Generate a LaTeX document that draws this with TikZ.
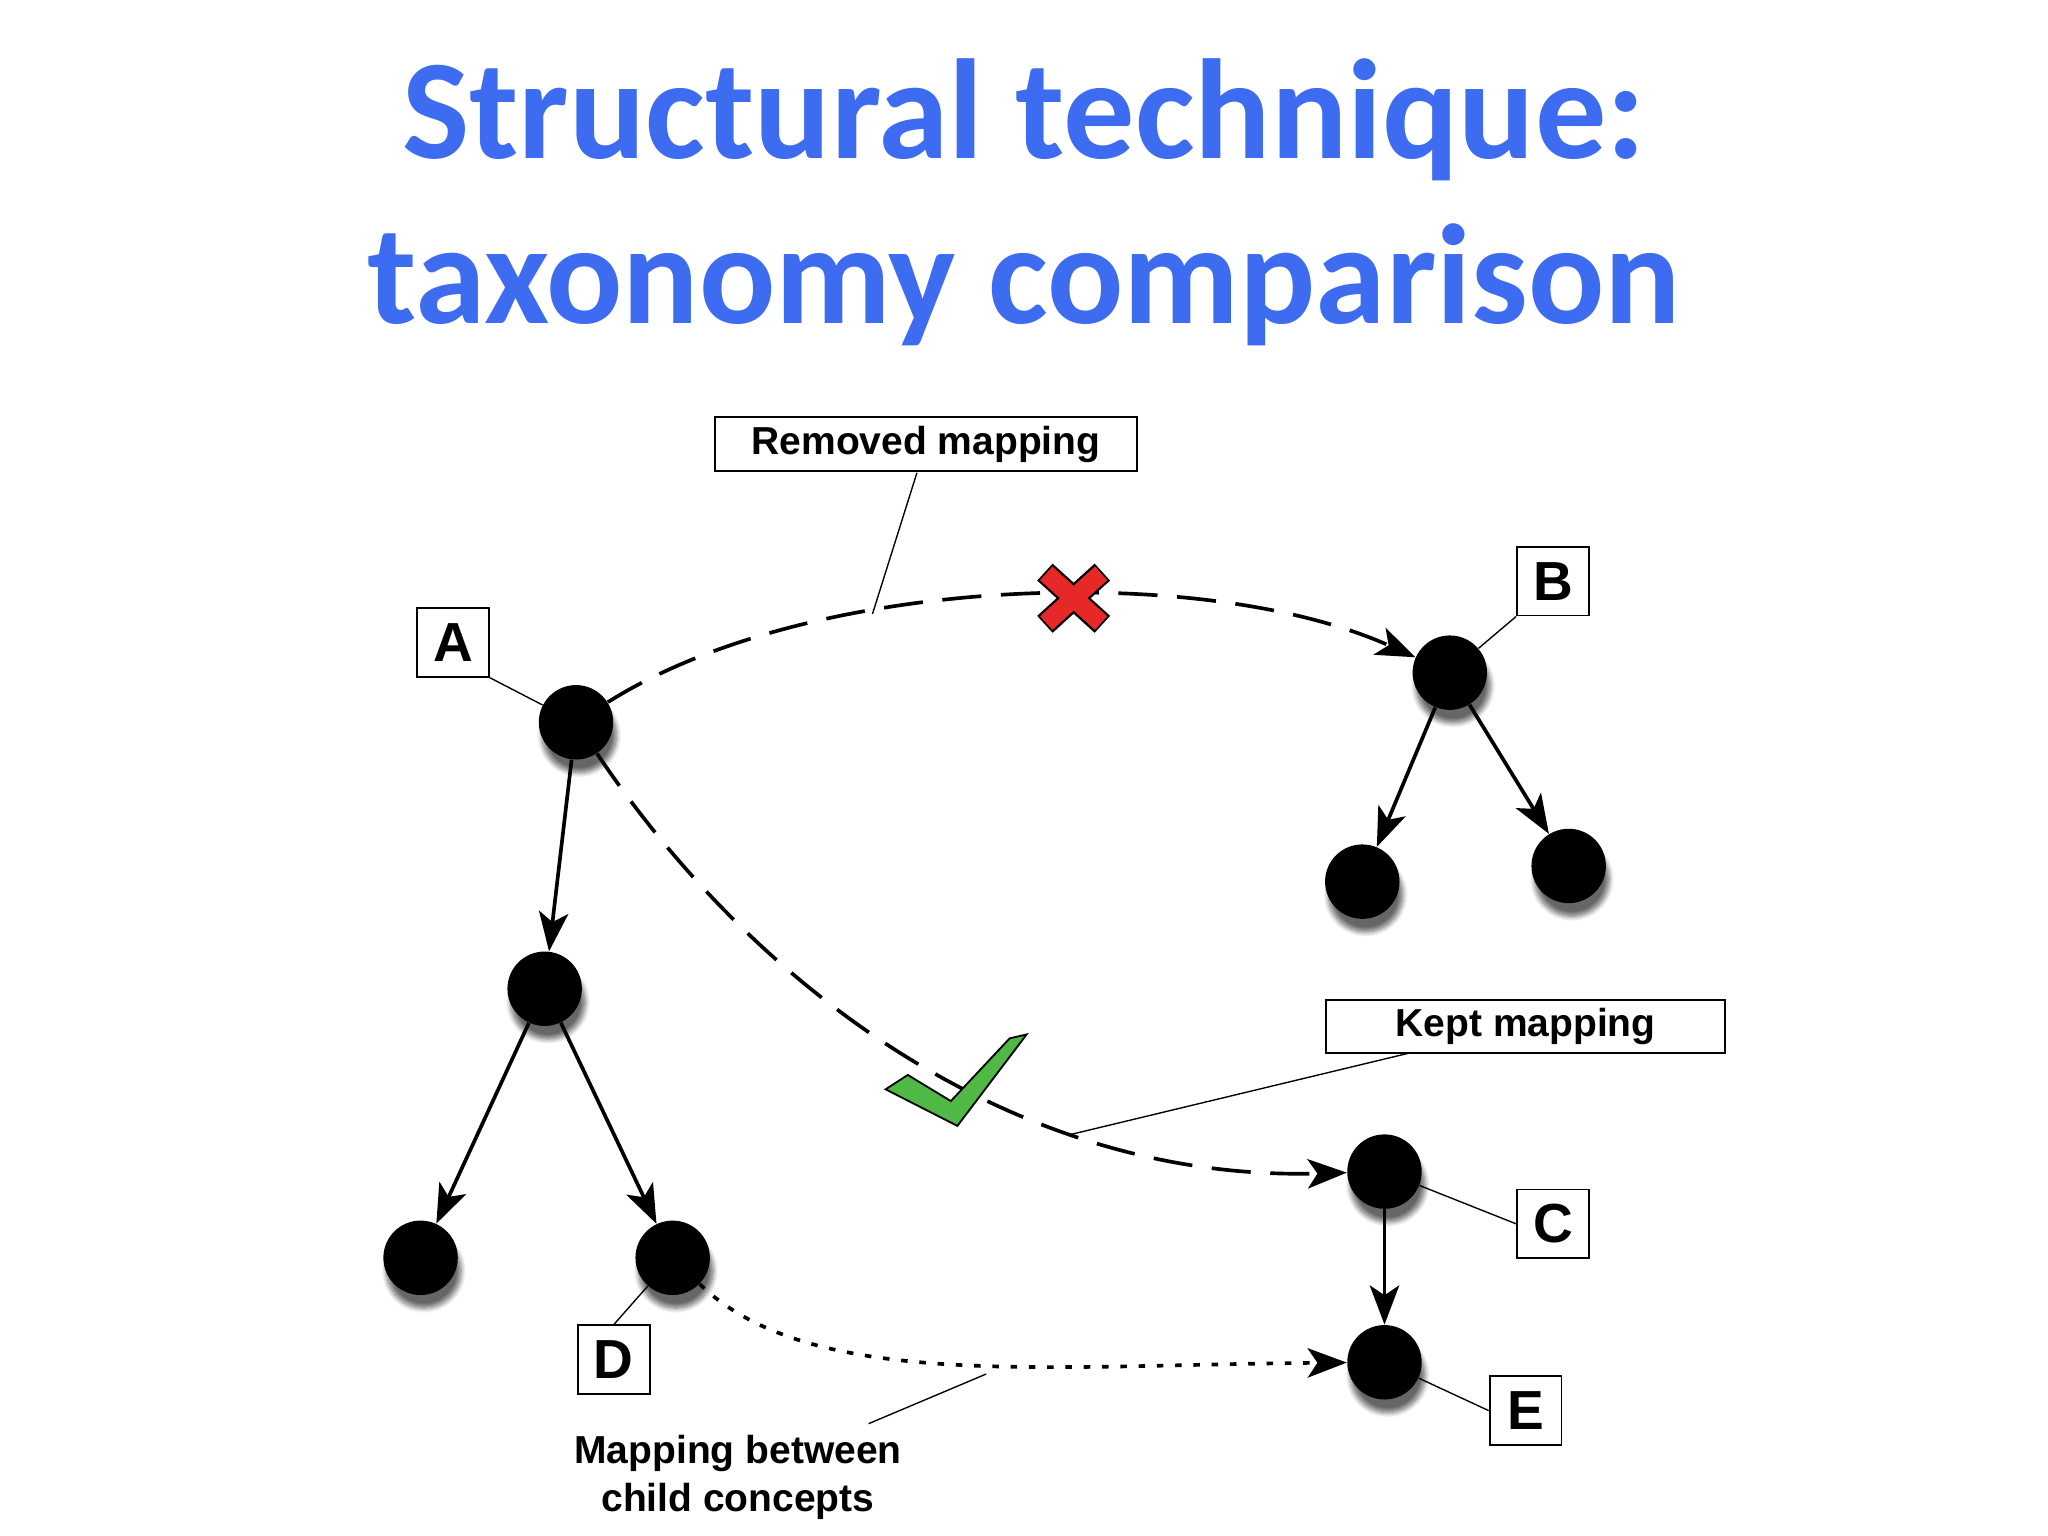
\documentclass[tikz,border=0pt]{standalone}
\usepackage{fontspec}
\setmainfont{Liberation Sans}
\newfontfamily\titlefont{Carlito}
\usetikzlibrary{arrows.meta,shadows.blur}
\definecolor{ttl}{RGB}{61,108,240}
\definecolor{xred}{RGB}{230,40,40}
\definecolor{ckgreen}{RGB}{80,185,70}
\tikzset{
 dot/.style={circle,fill=black,minimum size=1.14cm,inner sep=0,blur shadow={shadow xshift=0.05cm,shadow yshift=-0.2cm,shadow blur steps=8,shadow opacity=60}},
 lbox/.style={draw,line width=0.8pt,font=\bfseries\fontsize{24}{26}\selectfont,minimum width=1.1cm,minimum height=1.05cm,inner sep=0},
 tbox/.style={draw,line width=0.8pt,font=\bfseries\fontsize{17}{19}\selectfont,minimum height=0.82cm},
 edge/.style={line width=1.6pt,-{Stealth[length=0.6cm,width=0.45cm,inset=0.15cm]}},
 lead/.style={line width=0.6pt}
}
\begin{document}
\begin{tikzpicture}[x=0.02cm,y=-0.02cm]
\useasboundingbox (0,0) rectangle (1568,1176);
\node[text=ttl,font=\titlefont\bfseries\fontsize{62}{72}\selectfont,align=center] (title) at (784,155) {Structural technique:\\taxonomy comparison};
\node[dot] (A) at (441,553) {};
\node[dot] (A1) at (417,757) {};
\node[dot] (A2) at (322,963) {};
\node[dot] (D) at (515,963) {};
\node[dot] (B) at (1110,515) {};
\node[dot] (B1) at (1043,675) {};
\node[dot] (B2) at (1201,663) {};
\node[dot] (C) at (1060,897) {};
\node[dot] (E) at (1060,1043) {};
\node[lbox] (la) at (347,492) {A};
\node[lbox] (lb) at (1189,445) {B};
\node[lbox] (lc) at (1189,937) {C};
\node[lbox] (ld) at (470,1041) {D};
\node[lbox] (le) at (1168,1080) {E};
\node[tbox,minimum width=6.46cm] (rm) at (709,340) {Removed mapping};
\node[tbox,minimum width=6.12cm] (km) at (1168,786) {Kept mapping};
\node[font=\bfseries\fontsize{17}{21}\selectfont,align=center] (mc) at (565,1131) {Mapping between\\child concepts};
\draw[edge] (A) -- (A1);
\draw[edge] (A1) -- (A2);
\draw[edge] (A1) -- (D);
\draw[edge] (B) -- (B1);
\draw[edge] (B) -- (B2);
\draw[edge] (C) -- (E);
\draw[lead] (la.south east) -- (A);
\draw[lead] (lb.south west) -- (B);
\draw[lead] (lc.west) -- (C);
\draw[lead] (ld.north) -- (D);
\draw[lead] (le.west) -- (E);
\draw[edge,dash pattern=on 0.6cm off 0.3cm] (A) .. controls (620,440) and (920,430) .. (B);
\draw[edge,dash pattern=on 0.6cm off 0.3cm] (A) .. controls (580,760) and (780,905) .. (C);
\draw[edge,line width=1.6pt,dash pattern=on 0.1cm off 0.18cm] (D) .. controls (620,1065) and (800,1045) .. (E);
\coordinate (p1) at (668,470);
\coordinate (p2) at (818,869);
\coordinate (p3) at (755,1052);
\draw[lead] (702,362) -- (p1);
\draw[lead] (1080,806) -- (p2);
\draw[lead] (665,1090) -- (p3);
% red X
\begin{scope}[shift={(822,458)}]
\draw[line width=10pt,black,line cap=butt] (-22,-20) -- (22,20) (-22,20) -- (22,-20);
\draw[line width=8pt,xred,line cap=butt] (-21,-19) -- (21,19) (-21,19) -- (21,-19);
\end{scope}
% green check
\draw[fill=ckgreen,line width=0.8pt] (678,834) -- (695,823) -- (728,843) -- (773,795) -- (786,792) -- (733,862) -- cycle;
\end{tikzpicture}
\end{document}
